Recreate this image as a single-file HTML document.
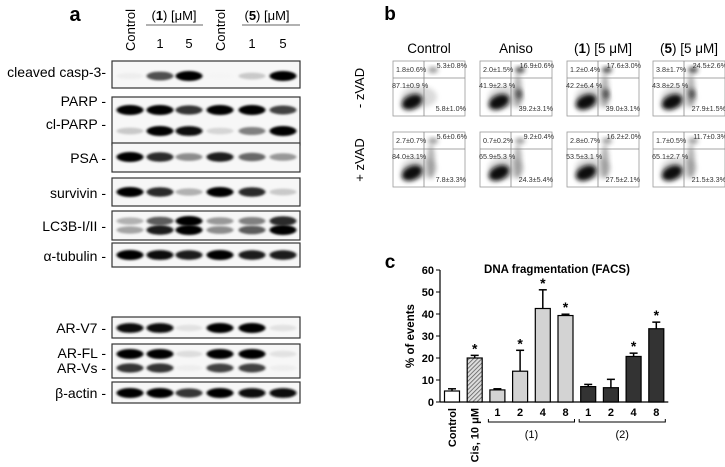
<!DOCTYPE html>
<html><head><meta charset="utf-8"><style>
html,body{margin:0;padding:0;background:#fff}
svg{display:block;font-family:"Liberation Sans",sans-serif}
</style></head><body>
<svg width="725" height="467" viewBox="0 0 725 467">
<defs>
<filter id="blur" x="-50%" y="-200%" width="200%" height="500%"><feGaussianBlur stdDeviation="1.4 1.0"/></filter>
<filter id="blur2" x="-50%" y="-50%" width="200%" height="200%"><feGaussianBlur stdDeviation="2.5"/></filter>
<pattern id="hatch" width="3" height="3" patternUnits="userSpaceOnUse" patternTransform="rotate(45)"><rect width="3" height="3" fill="#ddd"/><line x1="0" y1="0" x2="0" y2="3" stroke="#555" stroke-width="1.5"/></pattern>
</defs>
<g id="panelA"></g>
<g id="panelB"></g>
<g id="panelC"></g>
</svg>
<script>
const NS='http://www.w3.org/2000/svg';
function mk(p,t,a,txt){const e=document.createElementNS(NS,t);for(const k in a)e.setAttribute(k,a[k]);if(txt!==undefined)e.textContent=txt;p.appendChild(e);return e;}

// ---------- Panel A: western blots ----------
const laneX=[130,160,189,220,252,283];
const blots=[
 {name:'cleaved-casp-3',y:61,h:27,bands:[{dy:15,v:[0.05,0.7,1,0.02,0.2,1]}],labels:[['cleaved casp-3-',77]]},
 {name:'parp',y:97,h:48,bands:[{dy:13,v:[1,1,0.8,1,1,0.75]},{dy:34,v:[0.2,1,0.95,0.15,0.5,1]}],labels:[['PARP -',106],['cl-PARP -',129]]},
 {name:'psa',y:143,h:29,bands:[{dy:14,v:[1,0.85,0.45,0.9,0.6,0.4]}],labels:[['PSA -',163]]},
 {name:'survivin',y:178,h:28,bands:[{dy:14,v:[1,0.85,0.3,1,0.85,0.2]}],labels:[['survivin -',198]]},
 {name:'lc3b',y:211,h:29,bands:[{dy:10,v:[0.3,0.65,1,0.4,0.5,0.85]},{dy:19,v:[0.35,0.9,1,0.45,0.65,1]}],labels:[['LC3B-I/II -',231]]},
 {name:'alpha-tubulin',y:243,h:24,bands:[{dy:12,v:[1,0.95,0.9,1,0.9,0.9]}],labels:[['α-tubulin -',261]]},
 {name:'ar-v7',y:317,h:21,bands:[{dy:11,v:[0.95,0.95,0.1,1,1,0.1]}],labels:[['AR-V7 -',333]]},
 {name:'ar-fl',y:344,h:34,bands:[{dy:10,v:[1,1,0.12,1,1,0.1]},{dy:24,v:[0.8,0.8,0.05,0.75,0.75,0.05]}],labels:[['AR-FL -',358],['AR-Vs -',373]]},
 {name:'beta-actin',y:382,h:21,bands:[{dy:11,v:[1,1,0.8,1,0.95,0.95]}],labels:[['β-actin -',398]]}
];
const A=document.getElementById('panelA');
let t=mk(A,'text',{x:75,y:21,'font-size':20,'font-weight':'bold','text-anchor':'middle'},'a');

mk(A,'text',{x:174,y:20,'font-size':13,'text-anchor':'middle'}).innerHTML='(<tspan font-weight="bold">1</tspan>) [μM]';
mk(A,'text',{x:267,y:20,'font-size':13,'text-anchor':'middle'}).innerHTML='(<tspan font-weight="bold">5</tspan>) [μM]';
mk(A,'line',{x1:146,y1:25,x2:203,y2:25,stroke:'#333','stroke-width':0.8});
mk(A,'line',{x1:242,y1:25,x2:300,y2:25,stroke:'#333','stroke-width':0.8});
[[laneX[0],'Control'],[laneX[3],'Control']].forEach(([x,s])=>{const e=mk(A,'text',{x:0,y:0,'font-size':13,transform:`translate(${x+5},${30}) rotate(-90)`,'text-anchor':'middle'},s);});
[[laneX[1],'1'],[laneX[2],'5'],[laneX[4],'1'],[laneX[5],'5']].forEach(([x,s])=>{const e=mk(A,'text',{x:x,y:48,'font-size':13,'text-anchor':'middle'},s);});
blots.forEach(b=>{
 const g=mk(A,'g',{});
 
 mk(g,'rect',{x:112,y:b.y,width:188,height:b.h,fill:'#f7f7f7',stroke:'#333','stroke-width':1.2});
 b.bands.forEach(bd=>{bd.v.forEach((v,i)=>{
  const c=Math.round(250-v*245);
  mk(g,'ellipse',{cx:laneX[i],cy:b.y+bd.dy,rx:13.5,ry:3+v*2,fill:`rgb(${c},${c},${c})`,filter:'url(#blur)'});
 });});
 b.labels.forEach(([s,y])=>{const e=mk(A,'text',{x:106,y:y,'font-size':14,'text-anchor':'end'},s);});
});

// ---------- Panel B: flow cytometry ----------
const B=document.getElementById('panelB');
mk(B,'text',{x:390,y:20,'font-size':19,'font-weight':'bold','text-anchor':'middle'},'b');
const colX=[393,480,567,653], rowY=[61,132], pw=72, ph=55;
const colHead=['Control','Aniso','(1) [5 μM]','(5) [5 μM]'];
colHead.forEach((s,i)=>{const e=mk(B,'text',{x:colX[i]+pw/2,y:53,'font-size':13.5,'text-anchor':'middle'});
 if(i<2)e.textContent=s;else e.innerHTML='(<tspan font-weight="bold">'+(i==2?'1':'5')+'</tspan>) [5 μM]';
 });
[['- zVAD',88],['+ zVAD',160]].forEach(([s,y])=>{const e=mk(B,'text',{x:0,y:0,'font-size':13,'text-anchor':'middle',transform:`translate(364,${y}) rotate(-90)`},s);});
const quadVals=[
 [['1.8±0.6%','5.3±0.8%','87.1±0.9 %','5.8±1.0%'],['2.0±1.5%','16.9±0.6%','41.9±2.3 %','39.2±3.1%'],['1.2±0.4%','17.6±3.0%','42.2±6.4 %','39.0±3.1%'],['3.8±1.7%','24.5±2.6%','43.8±2.5 %','27.9±1.5%']],
 [['2.7±0.7%','5.6±0.6%','84.0±3.1%','7.8±3.3%'],['0.7±0.2%','9.2±0.4%','65.9±5.3 %','24.3±5.4%'],['2.8±0.7%','16.2±2.0%','53.5±3.1 %','27.5±2.1%'],['1.7±0.5%','11.7±0.3%','65.1±2.7 %','21.5±3.3%']]
];
rowY.forEach((y,r)=>colX.forEach((x,c)=>{
 const g=mk(B,'g',{});
 
 mk(g,'rect',{x:x,y:y,width:pw,height:ph,fill:'#fff',stroke:'#999','stroke-width':0.8});
 mk(g,'ellipse',{cx:x+26,cy:y+36,rx:18,ry:11,fill:'#888',opacity:0.3,filter:'url(#blur2)'});
 mk(g,'ellipse',{cx:x+19,cy:y+41,rx:11,ry:7,fill:'#111',filter:'url(#blur2)',transform:`rotate(-25 ${x+19} ${y+41})`});
 if(!(r==0&&c==0)){mk(g,'ellipse',{cx:x+38,cy:y+30,rx:4,ry:17,fill:'#555',opacity:0.45,filter:'url(#blur2)'});}
 mk(g,'ellipse',{cx:x+40,cy:y+9,rx:5,ry:3,fill:'#333',opacity:(r==0&&c>0)?0.9:0.5,filter:'url(#blur2)'});
 if(r==0&&c>0)mk(g,'ellipse',{cx:x+39,cy:y+33,rx:3,ry:5,fill:'#222',opacity:0.7,filter:'url(#blur2)'});
 mk(g,'line',{x1:x+31,y1:y,x2:x+31,y2:y+ph,stroke:'#888','stroke-width':0.8});
 mk(g,'line',{x1:x,y1:y+17,x2:x+pw,y2:y+17,stroke:'#888','stroke-width':0.8});
 const q=quadVals[r][c], fs=7.2;
 mk(g,'text',{x:x+3,y:y+11,'font-size':fs,fill:'#333'},q[0]);
 mk(g,'text',{x:x+pw+2,y:y+7,'font-size':fs,fill:'#333','text-anchor':'end'},q[1]);
 mk(g,'text',{x:x-1,y:y+27,'font-size':fs,fill:'#333'},q[2]);
 mk(g,'text',{x:x+pw+1,y:y+50,'font-size':fs,fill:'#333','text-anchor':'end'},q[3]);
}));

// ---------- Panel C: bar chart ----------
const categories=['Control','Cis, 10 μM','1','2','4','8','1','2','4','8'];
const values=[5,20,5.5,14,42.5,39.3,7,6.5,20.7,33.3];
const errors=[1,1.2,0.5,9.5,8.5,0.6,1,3.8,1.5,3];
const signif=[false,true,false,true,true,true,false,false,true,true];
const groups=['ctrl','cis','g1','g1','g1','g1','g2','g2','g2','g2'];
const yTicks=[0,10,20,30,40,50,60];
const C=document.getElementById('panelC');
const y0=402,yTop=270,yMax=60;
const yS=v=>y0-(v/yMax)*(y0-yTop);
const xS=i=>452+i*22.7;
const bw=15;
mk(C,'text',{x:390,y:268,'font-size':19,'font-weight':'bold','text-anchor':'middle'},'c');
let ti=mk(C,'text',{x:557,y:273,'font-size':11.5,'font-weight':'bold','text-anchor':'middle'},'DNA fragmentation (FACS)');

let yt=mk(C,'text',{x:0,y:0,'font-size':11.5,'font-weight':'bold','text-anchor':'middle',transform:`translate(414,${yS(30)}) rotate(-90)`},'% of events');

mk(C,'line',{x1:440,y1:yS(0),x2:440,y2:yS(60),stroke:'#000','stroke-width':1.2});
mk(C,'line',{x1:440,y1:yS(0),x2:xS(9)+12,y2:yS(0),stroke:'#000','stroke-width':1.2});
yTicks.forEach(v=>{mk(C,'line',{x1:436,y1:yS(v),x2:440,y2:yS(v),stroke:'#000'});
 const e=mk(C,'text',{x:434,y:yS(v)+4,'font-size':11,'font-weight':'bold','text-anchor':'end'},String(v));
 });
const fills={ctrl:'#fff',cis:'url(#hatch)',g1:'#d3d3d3',g2:'#333'};
values.forEach((v,i)=>{
 const x=xS(i);
 mk(C,'line',{x1:x,y1:yS(v),x2:x,y2:yS(v+errors[i]),stroke:'#000','stroke-width':1.5});
 mk(C,'line',{x1:x-4,y1:yS(v+errors[i]),x2:x+4,y2:yS(v+errors[i]),stroke:'#000','stroke-width':1.5});
 const r=mk(C,'rect',{x:x-bw/2,y:yS(v),width:bw,height:yS(0)-yS(v),fill:fills[groups[i]],stroke:'#000','stroke-width':1.2});
 
 if(signif[i]){const s=mk(C,'text',{x:x,y:yS(v+errors[i])-2,'font-size':14,'font-weight':'bold','text-anchor':'middle'},'*');}
 if(i<2){const l=mk(C,'text',{x:0,y:0,'font-size':11,'font-weight':'bold','text-anchor':'end',transform:`translate(${x+4},408) rotate(-90)`},categories[i]);}
 else{const l=mk(C,'text',{x:x,y:416,'font-size':11,'font-weight':'bold','text-anchor':'middle'},categories[i]);}
});
[[2,5,'(1)'],[6,9,'(2)']].forEach(([a,b,s])=>{
 const x1=xS(a)-9,x2=xS(b)+9;
 mk(C,'path',{d:`M${x1},419 L${x1},422 L${x2},422 L${x2},419`,fill:'none',stroke:'#000','stroke-width':1});
 const e=mk(C,'text',{x:(x1+x2)/2,y:438,'font-size':11,'text-anchor':'middle'},s);
 
});
</script>
</body></html>
